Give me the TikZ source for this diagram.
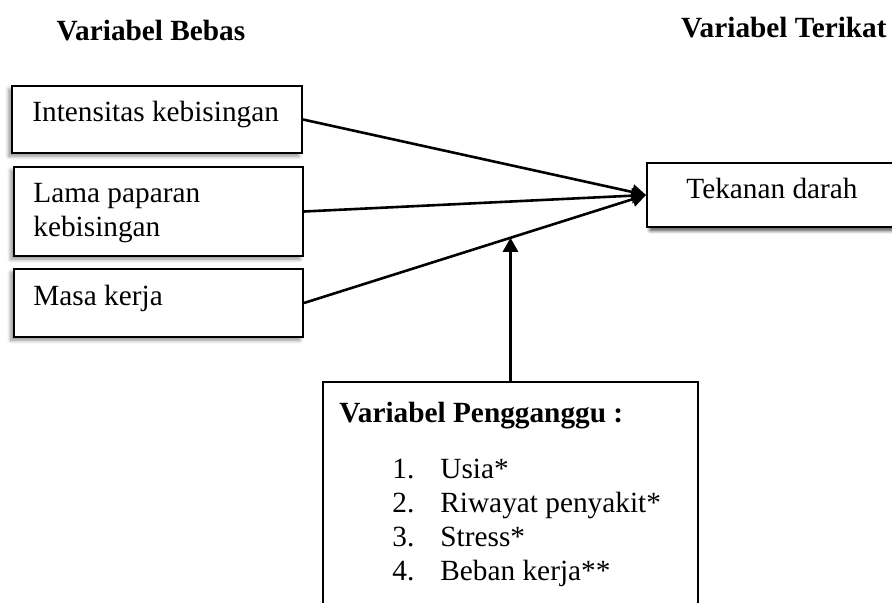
\documentclass[tikz,border=0pt]{standalone}
\usepackage{fontspec}
\setmainfont{Liberation Serif}
\usetikzlibrary{arrows.meta,positioning,calc,shadows.blur}

\begin{document}
\begin{tikzpicture}[x=0.5pt,y=-0.5pt,
      varbox/.style={draw=black,line width=1pt,fill=white,inner sep=0pt,
        blur shadow={shadow xshift=-1.6pt,shadow yshift=-1.6pt,shadow blur steps=6,shadow opacity=45}},
      boxtext/.style={font=\fontsize{14.65}{17}\selectfont,align=left,inner sep=0pt},
      heading/.style={font=\bfseries\fontsize{14.65}{17}\selectfont,inner sep=0pt},
      link/.style={line width=1.3pt,-{Triangle[length=7pt,width=7.5pt]}}]
    \useasboundingbox (0,0) rectangle (892,603);

    % Judul kolom.
    \node[heading] (bebas) at (151,31) {Variabel Bebas};
    \node[heading,anchor=east] (terikat) at (887,28) {Variabel Terikat};

    % Variabel bebas.
    \node[varbox,minimum width=145pt,minimum height=33.5pt] (intensitas) at (157,119.5) {};
    \node[boxtext,anchor=base west] (intensitasT) at ($(intensitas.north west)+(21,37)$)
      {Intensitas kebisingan};
    \node[varbox,minimum width=144.5pt,minimum height=44.5pt] (lama) at (158.5,211.5) {};
    % base = baris terakhir
    \node[boxtext,anchor=base west] (lamaT) at ($(lama.north west)+(20,71)$)
      {Lama paparan\\kebisingan};
    \node[varbox,minimum width=144.5pt,minimum height=34pt] (masa) at (158.5,303) {};
    \node[boxtext,anchor=base west] (masaT) at ($(masa.north west)+(20,38)$)
      {Masa kerja};

    % Variabel terikat.
    \node[varbox,blur shadow={shadow xshift=1.6pt,shadow yshift=-1.6pt,shadow blur steps=6,shadow opacity=45},
      minimum width=126.5pt,minimum height=32pt] (tekanan) at (773.5,195) {};
    \node[boxtext,anchor=base west] (tekananT) at ($(tekanan.north west)+(40,37)$)
      {Tekanan darah};

    % Variabel pengganggu.
    \node[draw=black,line width=1pt,fill=white,inner sep=0pt,
      minimum width=187.5pt,minimum height=119pt] (pengganggu) at (510.5,501) {};
    \node[heading,anchor=base west] (penggangguT) at (339,422) {Variabel Pengganggu :};
    \node[boxtext,anchor=base west] (daftar) at (392,580)
      {\makebox[24pt][l]{1.}Usia*\\
       \makebox[24pt][l]{2.}Riwayat penyakit*\\
       \makebox[24pt][l]{3.}Stress*\\
       \makebox[24pt][l]{4.}Beban kerja**};

    % Panah pengaruh.
    \draw[link] (intensitas.east) -- (tekanan.west);
    \draw[link] (lama.east) -- (tekanan.west);
    \draw[link] (masa.east) -- (tekanan.west);
    \coordinate (atas) at (pengganggu.north |- tekanan.west);
    \draw[link] (pengganggu.north) --
      (intersection of masa.east--tekanan.west and pengganggu.north--atas);
  \end{tikzpicture}
\end{document}
